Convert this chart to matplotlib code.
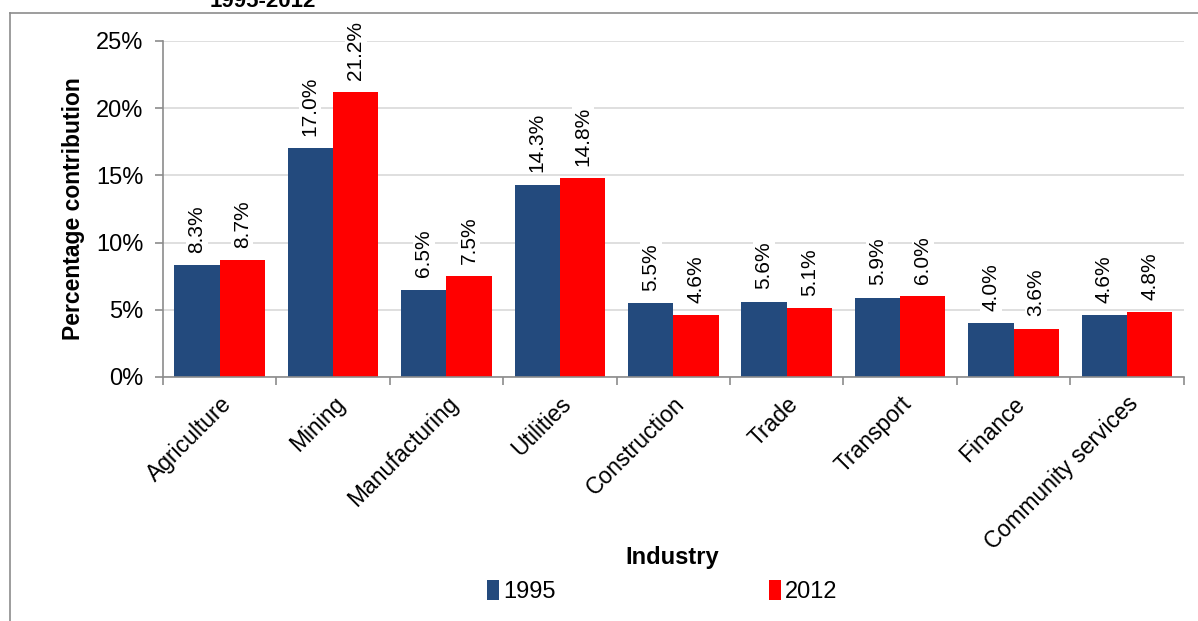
import numpy as np
import matplotlib.pyplot as plt
from matplotlib.lines import Line2D

plt.rcParams['font.family'] = ['Liberation Sans', 'DejaVu Sans']

industries = ['Agriculture', 'Mining', 'Manufacturing', 'Utilities', 'Construction',
              'Trade', 'Transport', 'Finance', 'Community services']
share_1995 = [8.3, 17.0, 6.5, 14.3, 5.5, 5.6, 5.9, 4.0, 4.6]
share_2012 = [8.7, 21.2, 7.5, 14.8, 4.6, 5.1, 6.0, 3.6, 4.8]
yticks = [0, 5, 10, 15, 20, 25]

blue = '#234A7D'
red = '#FF0000'
grey = '#8C8C8C'

fig = plt.figure(figsize=(11.98, 6.21), dpi=100)
ax = fig.add_axes([0.136, 0.393, 0.852, 0.541])

x = np.arange(len(industries))
w = 0.4
b1 = ax.bar(x - w / 2, share_1995, w, color=blue, label='1995', zorder=2)
b2 = ax.bar(x + w / 2, share_2012, w, color=red, label='2012', zorder=2)

for bars, vals in [(b1, share_1995), (b2, share_2012)]:
    for r, v in zip(bars, vals):
        ax.annotate('%.1f%%' % v, (r.get_x() + r.get_width() / 2, v),
                    xytext=(0, 9), textcoords='offset points',
                    rotation=90, ha='center', va='bottom', fontsize=15,
                    bbox=dict(facecolor='white', edgecolor='none', pad=1),
                    zorder=3)

ax.set_xlim(-0.5, len(industries) - 0.5)
ax.set_ylim(0, 25)
ax.set_yticks(yticks)
ax.set_yticklabels(['%d%%' % t for t in yticks], fontsize=17)
ax.yaxis.grid(True, color='#D9D9D9', linewidth=1.2, zorder=0)
ax.set_axisbelow(True)

ax.set_xticks(np.arange(len(industries) + 1) - 0.5)
ax.set_xticklabels([])
ax.set_xticks(x, minor=True)
ax.set_xticklabels(industries, minor=True, rotation=45, ha='right',
                   rotation_mode='anchor', fontsize=16.5)
ax.tick_params(axis='x', which='minor', length=0, pad=11)
ax.tick_params(axis='x', which='major', length=6, color=grey, width=1.2)
ax.tick_params(axis='y', length=6, color=grey, width=1.2, pad=8)

for s in ['top', 'right']:
    ax.spines[s].set_visible(False)
for s in ['left', 'bottom']:
    ax.spines[s].set_color(grey)
    ax.spines[s].set_linewidth(1.2)

ax.set_ylabel('Percentage contribution', fontsize=16.5, fontweight='bold', labelpad=8)
fig.text(0.561, 0.102, 'Industry', fontsize=17, fontweight='bold', ha='center', va='center')

leg = fig.legend(handles=[b1, b2], labels=['1995', '2012'], loc='center',
                 bbox_to_anchor=(0.553, 0.047), ncol=2, frameon=False,
                 fontsize=17, handlelength=0.5, handleheight=0.9,
                 handletextpad=0.2, columnspacing=9)

fig.text(0.219, 0.998, '1995-2012', fontsize=16, fontweight='bold', ha='center', va='center')

fig.add_artist(Line2D([0.0085, 0.0085], [0, 0.979], color=grey, linewidth=1.2))
fig.add_artist(Line2D([0.0085, 1.0], [0.979, 0.979], color=grey, linewidth=1.2))

fig.savefig('out.png', dpi=100)
